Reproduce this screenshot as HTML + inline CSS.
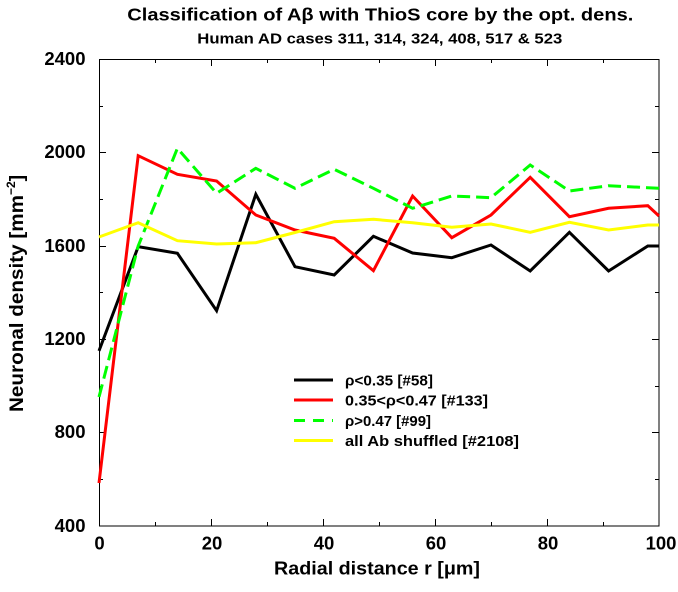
<!DOCTYPE html>
<html>
<head>
<meta charset="utf-8">
<style>
html,body{margin:0;padding:0;background:#fff;}
svg{display:block;}
text{font-family:"Liberation Sans",Arial,sans-serif;font-weight:bold;fill:#000;}
</style>
</head>
<body>
<svg width="678" height="592" viewBox="0 0 678 592" xmlns="http://www.w3.org/2000/svg">
<rect x="0" y="0" width="678" height="592" fill="#fff"/>

<!-- Titles -->
<text x="127.3" y="20.7" font-size="17.5" textLength="506" lengthAdjust="spacingAndGlyphs">Classification of Aβ with ThioS core by the opt. dens.</text>
<text x="197.3" y="43.3" font-size="14.5" textLength="365" lengthAdjust="spacingAndGlyphs">Human AD cases 311, 314, 324, 408, 517 &amp; 523</text>

<!-- Axes frame -->
<rect x="99.5" y="59.5" width="559.5" height="466.5" fill="none" stroke="#000" stroke-width="1"/>

<!-- X ticks -->
<g stroke="#000" stroke-width="1">
  <!-- major (labelled) -->
  <line x1="99.5" y1="526" x2="99.5" y2="519"/>
  <line x1="211.5" y1="526" x2="211.5" y2="519"/><line x1="211.5" y1="59" x2="211.5" y2="66"/>
  <line x1="323.5" y1="526" x2="323.5" y2="519"/><line x1="323.5" y1="59" x2="323.5" y2="66"/>
  <line x1="435.5" y1="526" x2="435.5" y2="519"/><line x1="435.5" y1="59" x2="435.5" y2="66"/>
  <line x1="547.5" y1="526" x2="547.5" y2="519"/><line x1="547.5" y1="59" x2="547.5" y2="66"/>
  <!-- minor -->
  <line x1="155.5" y1="526" x2="155.5" y2="522"/><line x1="155.5" y1="59" x2="155.5" y2="63"/>
  <line x1="267.5" y1="526" x2="267.5" y2="522"/><line x1="267.5" y1="59" x2="267.5" y2="63"/>
  <line x1="379.5" y1="526" x2="379.5" y2="522"/><line x1="379.5" y1="59" x2="379.5" y2="63"/>
  <line x1="491.5" y1="526" x2="491.5" y2="522"/><line x1="491.5" y1="59" x2="491.5" y2="63"/>
  <line x1="603.5" y1="526" x2="603.5" y2="522"/><line x1="603.5" y1="59" x2="603.5" y2="63"/>
</g>

<!-- Y ticks -->
<g stroke="#000" stroke-width="1">
  <!-- major (labelled: 2400,2000,1600,1200,800,400) -->
  <line x1="99" y1="152.5" x2="106" y2="152.5"/><line x1="659" y1="152.5" x2="652" y2="152.5"/>
  <line x1="99" y1="246.5" x2="106" y2="246.5"/><line x1="659" y1="246.5" x2="652" y2="246.5"/>
  <line x1="99" y1="339.5" x2="106" y2="339.5"/><line x1="659" y1="339.5" x2="652" y2="339.5"/>
  <line x1="99" y1="432.5" x2="106" y2="432.5"/><line x1="659" y1="432.5" x2="652" y2="432.5"/>
  <!-- minor -->
  <line x1="99" y1="106.5" x2="103" y2="106.5"/><line x1="659" y1="106.5" x2="655" y2="106.5"/>
  <line x1="99" y1="199.5" x2="103" y2="199.5"/><line x1="659" y1="199.5" x2="655" y2="199.5"/>
  <line x1="99" y1="292.5" x2="103" y2="292.5"/><line x1="659" y1="292.5" x2="655" y2="292.5"/>
  <line x1="99" y1="386.5" x2="103" y2="386.5"/><line x1="659" y1="386.5" x2="655" y2="386.5"/>
  <line x1="99" y1="479.5" x2="103" y2="479.5"/><line x1="659" y1="479.5" x2="655" y2="479.5"/>
</g>

<!-- Y tick labels -->
<g font-size="18.5" text-anchor="end">
  <text x="85.5" y="65">2400</text>
  <text x="85.5" y="158">2000</text>
  <text x="85.5" y="252">1600</text>
  <text x="85.5" y="345">1200</text>
  <text x="85.5" y="438">800</text>
  <text x="85.5" y="532">400</text>
</g>

<!-- X tick labels -->
<g font-size="18.5" text-anchor="middle">
  <text x="99.5" y="549.3">0</text>
  <text x="212" y="549.3">20</text>
  <text x="324" y="549.3">40</text>
  <text x="436" y="549.3">60</text>
  <text x="548" y="549.3">80</text>
  <text x="661" y="549.3">100</text>
</g>

<!-- Axis titles -->
<text x="274" y="574.3" font-size="18.5" textLength="206" lengthAdjust="spacingAndGlyphs">Radial distance r [μm]</text>
<text transform="translate(23,412) rotate(-90)" font-size="19.5"><tspan textLength="217" lengthAdjust="spacingAndGlyphs">Neuronal density [mm</tspan><tspan font-size="12" dy="-8">−2</tspan><tspan dy="8">]</tspan></text>

<!-- Data series -->
<g fill="none" stroke-width="3" stroke-linejoin="miter" stroke-linecap="butt">
  <polyline stroke="#000000" points="99,350.9 138.2,246.7 177.4,253.3 216.6,310.7 255.8,194.3 295,266.7 334.2,275 373.4,236.3 412.6,253 451.8,257.7 491,245 530.2,271 569.4,232.3 608.6,271 647.8,246 659,246"/>
  <polyline stroke="#ff0000" points="99,483 138.2,155.7 177.4,174.3 216.6,181 255.8,215 295,230 334.2,238.3 373.4,270.7 412.6,196 451.8,237.7 491,215 530.2,177.3 569.4,216.7 608.6,208.3 647.8,205.7 659,216"/>
  <polyline stroke="#00ff00" stroke-dasharray="13 6" points="99,397 138.2,246 177.4,148.3 216.6,193.3 255.8,168.3 295,188.3 334.2,169.3 373.4,188.3 412.6,208.3 451.8,196 491,197.7 530.2,165 569.4,191 608.6,185.7 647.8,187.7 659,188.3"/>
  <polyline stroke="#ffff00" points="99,237 138.2,222.7 177.4,240.7 216.6,244 255.8,242.7 295,232.5 334.2,221.7 373.4,219.3 412.6,222.7 451.8,227.3 491,224 530.2,232.3 569.4,222.3 608.6,230 647.8,225 659,225"/>
</g>

<!-- Legend -->
<g stroke-width="3" fill="none">
  <line x1="294" y1="380" x2="333" y2="380" stroke="#000000"/>
  <line x1="294" y1="400" x2="333" y2="400" stroke="#ff0000"/>
  <line x1="294" y1="420.5" x2="333" y2="420.5" stroke="#00ff00" stroke-dasharray="11 8"/>
  <line x1="294" y1="440.5" x2="333" y2="440.5" stroke="#ffff00"/>
</g>
<g font-size="15">
  <text x="345" y="385.5" textLength="88" lengthAdjust="spacingAndGlyphs">ρ&lt;0.35 [#58]</text>
  <text x="345" y="405.5" textLength="143" lengthAdjust="spacingAndGlyphs">0.35&lt;ρ&lt;0.47 [#133]</text>
  <text x="345" y="426" textLength="86" lengthAdjust="spacingAndGlyphs">ρ&gt;0.47 [#99]</text>
  <text x="345" y="446" textLength="174" lengthAdjust="spacingAndGlyphs">all Ab shuffled [#2108]</text>
</g>
</svg>
</body>
</html>
